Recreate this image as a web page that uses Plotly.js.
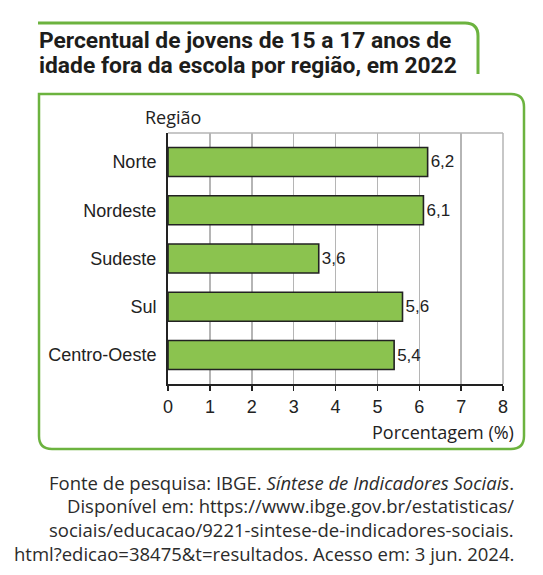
<!DOCTYPE html>
<html>
<head>
<meta charset="utf-8">
<script src="https://cdn.plot.ly/plotly-3.0.1.min.js"></script>
<style>
  html, body { margin: 0; padding: 0; background: #fff; }
  #graph { width: 543px; height: 575px; }
</style>
</head>
<body>
<div id="graph"></div>
<script>
const regions = ['Norte', 'Nordeste', 'Sudeste', 'Sul', 'Centro-Oeste'];
const percentages = [6.2, 6.1, 3.6, 5.6, 5.4];
const xTicks = [0, 1, 2, 3, 4, 5, 6, 7, 8];

const titleLines = [
    'Percentual de jovens de 15 a 17 anos de',
    'idade fora da escola por região, em 2022'
];
const sourceLines = [
    'Fonte de pesquisa: IBGE. <i>Síntese de Indicadores Sociais</i>.',
    'Disponível em: https://www.ibge.gov.br/estatisticas/',
    'sociais/educacao/9221-sintese-de-indicadores-sociais.',
    'html?edicao=38475&t=resultados. Acesso em: 3 jun. 2024.'
];

// plot area in page pixels
const L = 168, R = 503, T = 133, B = 384;
const px = v => (v - L) / (R - L);
const py = v => (B - v) / (B - T);

const green = '#6cb33f';
const sans = 'Liberation Sans, Arial, sans-serif';
const humanist = 'Open Sans, sans-serif';

const titleFrame = 'M ' + px(38) + ' ' + py(23) +
    ' L ' + px(465) + ' ' + py(23) +
    ' Q ' + px(478) + ' ' + py(23) + ' ' + px(478) + ' ' + py(36) +
    ' L ' + px(478) + ' ' + py(74);

const r = 13;
const bx0 = 39, bx1 = 524, by0 = 94, by1 = 449;
const boxFrame = 'M ' + px(bx0) + ' ' + py(by0) +
    ' L ' + px(bx1 - r) + ' ' + py(by0) +
    ' Q ' + px(bx1) + ' ' + py(by0) + ' ' + px(bx1) + ' ' + py(by0 + r) +
    ' L ' + px(bx1) + ' ' + py(by1 - r) +
    ' Q ' + px(bx1) + ' ' + py(by1) + ' ' + px(bx1 - r) + ' ' + py(by1) +
    ' L ' + px(bx0 + r) + ' ' + py(by1) +
    ' Q ' + px(bx0) + ' ' + py(by1) + ' ' + px(bx0) + ' ' + py(by1 - r) +
    ' Z';

let annotations = [];

titleLines.forEach((t, i) => {
    annotations.push({
        text: '<b>' + t + '</b>', xref: 'paper', yref: 'paper',
        x: px(37), y: py(40 + i * 25), xanchor: 'left', yanchor: 'middle',
        showarrow: false,
        font: { family: 'Roboto, sans-serif', size: 22.8, color: '#1d1d1b' }
    });
});

sourceLines.forEach((t, i) => {
    annotations.push({
        text: t, xref: 'paper', yref: 'paper',
        x: px(516), y: py(482 + i * 23.7), xanchor: 'right', yanchor: 'middle',
        showarrow: false,
        font: { family: humanist, size: 18.5, color: '#2b2b2b' }
    });
});

annotations.push({
    text: 'Região', xref: 'paper', yref: 'paper',
    x: px(173), y: py(117), xanchor: 'center', yanchor: 'middle',
    showarrow: false, font: { family: humanist, size: 18, color: '#222' }
});

annotations.push({
    text: 'Porcentagem (%)', xref: 'paper', yref: 'paper',
    x: px(516), y: py(432), xanchor: 'right', yanchor: 'middle',
    showarrow: false, font: { family: humanist, size: 18, color: '#222' }
});

const trace = {
    type: 'bar',
    orientation: 'h',
    y: regions,
    x: percentages,
    width: 0.6,
    texttemplate: '%{x:.1f}',
    textposition: 'outside',
    cliponaxis: false,
    textfont: { family: sans, size: 17, color: '#222' },
    marker: {
        color: '#8bc34f',
        line: { color: '#222', width: 1.6 }
    },
    hoverinfo: 'skip'
};

const layout = {
    width: 543,
    height: 575,
    margin: { l: L, r: 543 - R, t: T, b: 575 - B },
    paper_bgcolor: '#fff',
    plot_bgcolor: '#fff',
    separators: ',.',
    showlegend: false,
    xaxis: {
        range: [0, 8],
        tickvals: xTicks,
        ticktext: xTicks.map(String),
        showgrid: true,
        gridcolor: '#b5b5b5',
        gridwidth: 1.5,
        zeroline: false,
        showline: true,
        linecolor: '#222',
        linewidth: 2,
        ticks: 'outside',
        ticklen: 5,
        tickwidth: 1.5,
        tickcolor: '#222',
        tickfont: { family: sans, size: 18, color: '#222' },
        fixedrange: true
    },
    yaxis: {
        type: 'category',
        range: [4.6, -0.6],
        showgrid: false,
        zeroline: false,
        showline: true,
        linecolor: '#222',
        linewidth: 2,
        ticks: '',
        ticklabelstandoff: 6,
        tickfont: { family: sans, size: 18, color: '#222' },
        fixedrange: true
    },
    shapes: [
        { type: 'line', xref: 'paper', yref: 'paper', x0: 0, x1: 1, y0: 1, y1: 1,
          line: { color: '#b5b5b5', width: 1.5 }, layer: 'below' },
        { type: 'line', xref: 'paper', yref: 'paper', x0: 1, x1: 1, y0: 0, y1: 1,
          line: { color: '#b5b5b5', width: 1.5 }, layer: 'below' },
        { type: 'path', xref: 'paper', yref: 'paper', path: titleFrame,
          line: { color: green, width: 3 } },
        { type: 'path', xref: 'paper', yref: 'paper', path: boxFrame,
          line: { color: green, width: 2.5 } }
    ],
    annotations: annotations
};

Plotly.newPlot('graph', [trace], layout, { staticPlot: true });
</script>
</body>
</html>
